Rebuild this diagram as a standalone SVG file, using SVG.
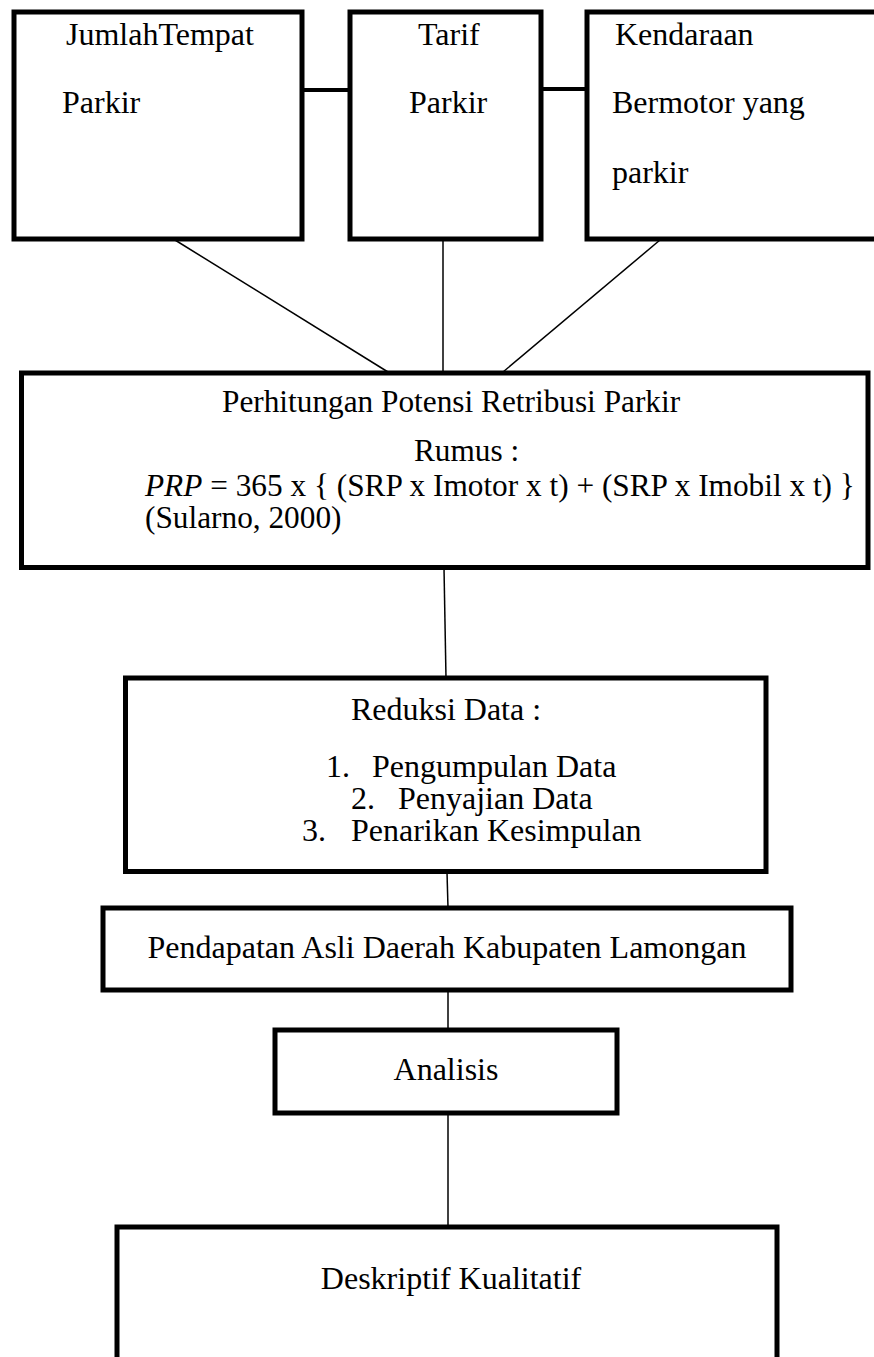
<svg xmlns="http://www.w3.org/2000/svg" width="874" height="1357" viewBox="0 0 874 1357">
<style>
.box{fill:#fff;stroke:#000;stroke-width:5}
.con{stroke:#000;stroke-width:1.5;fill:none}
.bar{stroke:#000;stroke-width:4;fill:none}
text{font-family:"Liberation Serif","Times New Roman",serif;font-size:32px;fill:#000}
.f{font-size:31.3px}
</style>
<rect width="874" height="1357" fill="#fff"/>
<g id="connectors">
<line class="bar" x1="302" y1="90" x2="350" y2="90"/>
<line class="bar" x1="541" y1="89" x2="587" y2="89"/>
<line class="con" x1="175" y1="240" x2="388" y2="372"/>
<line class="con" x1="443" y1="240" x2="443" y2="372"/>
<line class="con" x1="660" y1="240" x2="503" y2="372"/>
<line class="con" x1="444" y1="568" x2="446" y2="678"/>
<line class="con" x1="447" y1="872" x2="448" y2="908"/>
<line class="con" x1="448" y1="990" x2="448" y2="1030"/>
<line class="con" x1="448" y1="1113" x2="448" y2="1227"/>
</g>
<g id="jumlah">
<rect class="box" x="14" y="12" width="288" height="227"/>
<text x="66" y="45">JumlahTempat</text>
<text x="62" y="113">Parkir</text>
</g>
<g id="tarif">
<rect class="box" x="350" y="12" width="191" height="227"/>
<text x="418" y="45">Tarif</text>
<text x="409" y="113">Parkir</text>
</g>
<g id="kendaraan">
<path class="box" d="M880,12 H587 V239 H880"/>
<text x="615" y="45">Kendaraan</text>
<text x="612" y="113">Bermotor yang</text>
<text x="612" y="183">parkir</text>
</g>
<g id="perhitungan">
<rect class="box" x="21.5" y="373" width="846.5" height="194.5"/>
<text class="f" x="222" y="412">Perhitungan Potensi Retribusi Parkir</text>
<text class="f" x="414" y="461">Rumus :</text>
<text class="f" x="145" y="496"><tspan font-style="italic">PRP</tspan> = 365 x { (SRP x Imotor x t) + (SRP x Imobil x t) }</text>
<text class="f" x="145" y="528">(Sularno, 2000)</text>
</g>
<g id="reduksi">
<rect class="box" x="125.5" y="678" width="640.5" height="193.5"/>
<text x="446" y="720" text-anchor="middle">Reduksi Data :</text>
<text x="326" y="777">1.<tspan x="372">Pengumpulan Data</tspan></text>
<text x="351" y="809">2.<tspan x="398">Penyajian Data</tspan></text>
<text x="302" y="841">3.<tspan x="351">Penarikan Kesimpulan</tspan></text>
</g>
<g id="pendapatan">
<rect class="box" x="103" y="908" width="688" height="82"/>
<text x="447" y="958" text-anchor="middle">Pendapatan Asli Daerah Kabupaten Lamongan</text>
</g>
<g id="analisis">
<rect class="box" x="275" y="1030" width="342" height="83"/>
<text x="446" y="1080" text-anchor="middle">Analisis</text>
</g>
<g id="deskriptif">
<path class="box" d="M117,1370 V1227 H777 V1370"/>
<text x="451" y="1289" text-anchor="middle">Deskriptif Kualitatif</text>
</g>
</svg>
